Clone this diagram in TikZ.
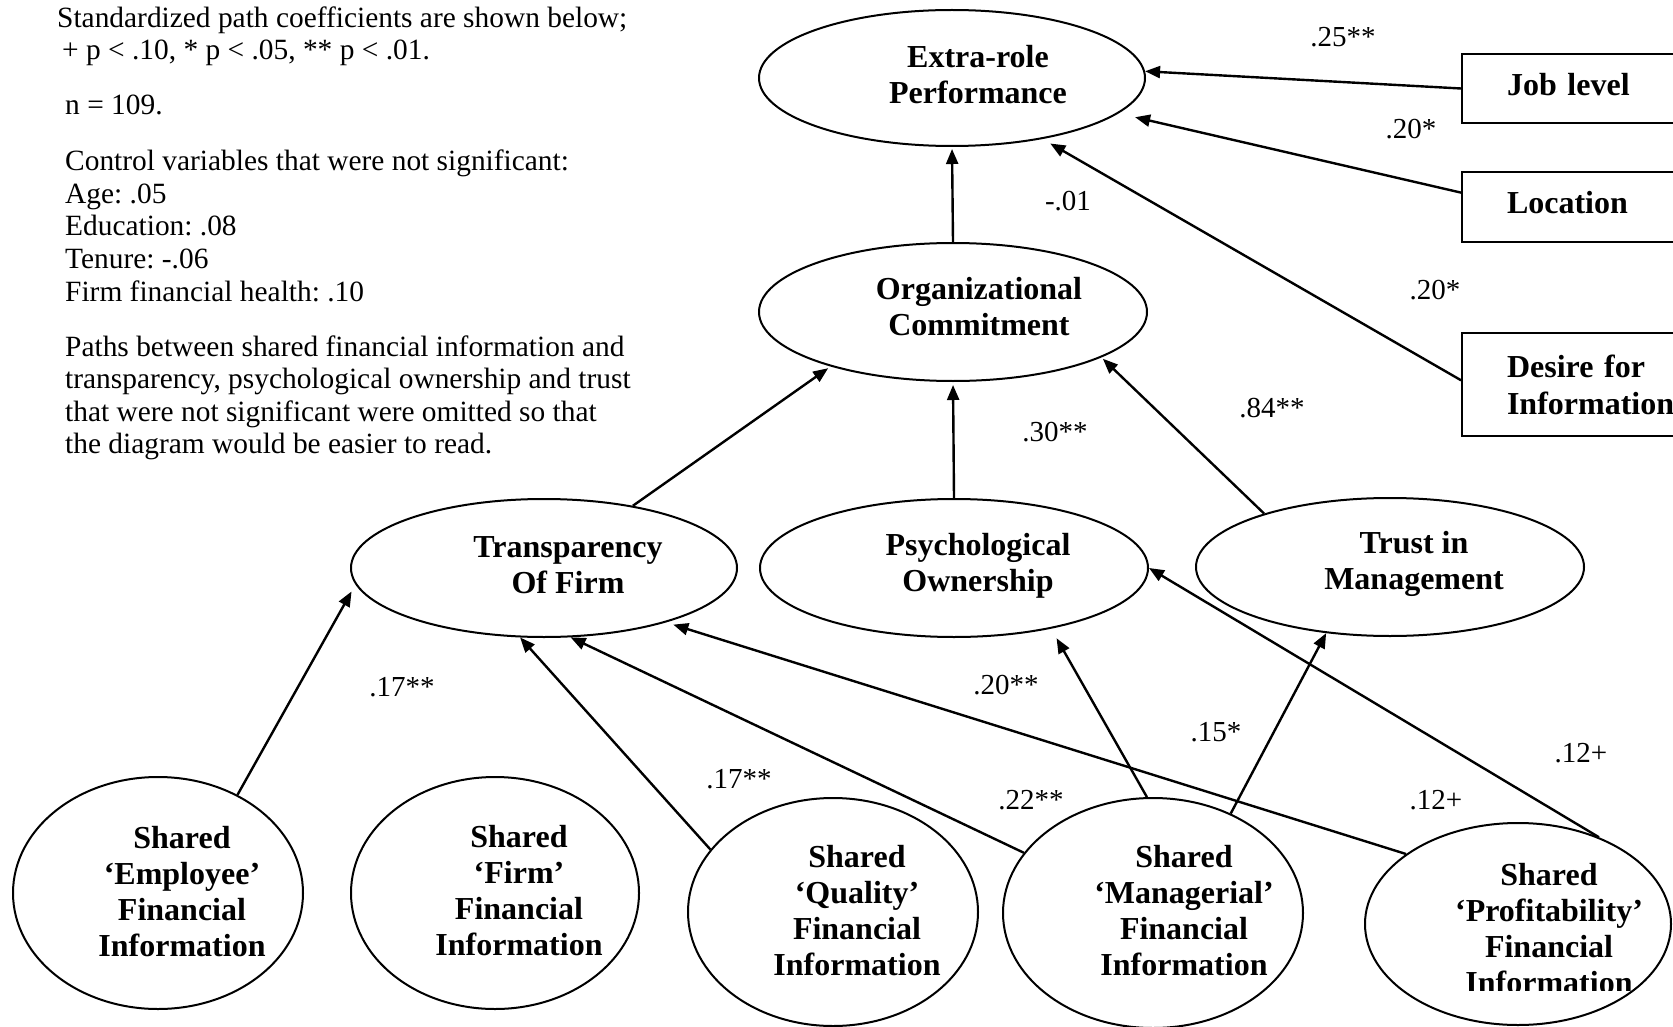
\documentclass[tikz,border=0pt]{standalone}
\usepackage{fontspec}
\setmainfont{Liberation Serif}
\usetikzlibrary{shapes.geometric,arrows.meta,calc}
\frenchspacing
\begin{document}
\begin{tikzpicture}[x=1pt,y=-1pt,
  ell/.style={ellipse,draw,line width=2pt,inner sep=0pt},
  lab/.style={font=\fontsize{32}{36}\selectfont\bfseries,align=center,inner sep=0pt},
  boxnode/.style={draw,rectangle,line width=1.8pt,minimum width=300pt,text width=210pt,inner xsep=45pt,inner ysep=0pt,align=left,font=\fontsize{32}{37}\selectfont\bfseries},
  arr/.style={line width=2.4pt,-{Triangle[length=15pt,width=12pt]}},
  coef/.style={font=\fontsize{29}{32}\selectfont,inner sep=0pt},
  note/.style={font=\fontsize{29.4}{32}\selectfont,inner sep=0pt,anchor=base west}
]
\path[use as bounding box,clip] (0,0) rectangle (1673,1027);
\fill[white] (0,0) rectangle (1673,1027);

% notes
\node[note] (t1) at (57,27.5) {Standardized path coefficients are shown below;};
\node[note] (t2) at (62,59.5) {+ p < .10, * p < .05, ** p < .01.};
\node[note] (t3) at (65,115) {n = 109.};
\node[note] (t4) at (65,171) {Control variables that were not significant:};
\node[note] (t5) at (65,203.5) {Age: .05};
\node[note] (t6) at (65,236) {Education: .08};
\node[note] (t7) at (65,268.5) {Tenure: -.06};
\node[note] (t8) at (65,301) {Firm financial health: .10};
\node[note] (t9) at (65,356) {Paths between shared financial information and};
\node[note] (t10) at (65,388.5) {transparency, psychological ownership and trust};
\node[note] (t11) at (65,421) {that were not significant were omitted so that};
\node[note] (t12) at (65,453.5) {the diagram would be easier to read.};

% ellipses
\node[ell,minimum width=386pt,minimum height=136pt] (extra) at (952,78) {};
\node[ell,minimum width=388pt,minimum height=138pt] (org) at (953,312) {};
\node[ell,minimum width=386pt,minimum height=138pt] (tra) at (544,568) {};
\node[ell,minimum width=388pt,minimum height=138pt] (psy) at (954,568) {};
\node[ell,minimum width=388pt,minimum height=138pt] (tru) at (1390,567) {};
\node[ell,minimum width=290pt,minimum height=232pt] (emp) at (158,893) {};
\node[ell,minimum width=288pt,minimum height=232pt] (frm) at (495,893) {};
\node[ell,minimum width=290pt,minimum height=228pt] (qua) at (833,912) {};
\node[ell,minimum width=300pt,minimum height=230pt] (man) at (1153,913) {};
\node[ell,minimum width=306pt,minimum height=202pt] (pro) at (1518,924) {};

% ellipse texts
\node[lab] (extraT) at (978,75) {Extra-role\\Performance};
\node[lab] (orgT) at (979,307) {Organizational\\Commitment};
\node[lab] (traT) at (568,565) {Transparency\\Of Firm};
\node[lab] (psyT) at (978,566) {Psychological\\Ownership};
\node[lab] (truT) at (1414,564) {Trust in\\Management};
\node[lab] (empT) at (182,892) {Shared\\‘Employee’\\Financial\\Information};
\node[lab] (frmT) at (519,891) {Shared\\‘Firm’\\Financial\\Information};
\node[lab] (quaT) at (857,911) {Shared\\‘Quality’\\Financial\\Information};
\node[lab] (manT) at (1184,911) {Shared\\‘Managerial’\\Financial\\Information};
\begin{scope}
\clip (1300,800) rectangle (1673,990);
\node[lab] (proT) at (1549,929) {Shared\\‘Profitability’\\Financial\\Information};
\end{scope}

% boxes
\node[boxnode,minimum height=69pt,text depth=9pt] (job) at (1612,88.5) {Job level};
\node[boxnode,minimum height=70pt,text depth=9pt] (loc) at (1612,207) {Location};
\node[boxnode,minimum height=103pt] (des) at (1612,384.5) {Desire for\\Information};

% arrows
\draw[arr] (job.west) -- (extra.2);
\draw[arr,shorten >=17pt] ($(loc.north west)!0.3!(loc.south west)$) -- (extra.-12.5);
\draw[arr,shorten >=9pt] ($(des.north west)!0.46!(des.south west)$) -- (extra.-34);
\draw[arr,shorten >=2pt] (org.north) -- (extra.south);
\draw[arr,shorten >=3pt] (tra.35) -- (org.-156);
\draw[arr,shorten >=3pt] (psy.north) -- (org.south);
\draw[arr,shorten >=2pt] (tru.157) -- (org.-17.4);
\draw[arr,shorten >=8pt] (emp.51.5) -- (tra.185.2);
\draw[arr] (qua.153.4) -- (tra.-109.2);
\draw[arr] (man.155.4) -- (tra.-69.1);
\draw[arr,shorten >=7.5pt] (pro.148.9) -- (tra.-24);
\draw[arr,shorten >=11pt] (man.93) -- (psy.-32.6);
\draw[arr] (man.52.7) -- (tru.-134);
\draw[arr] (pro.47.9) -- (psy.0);

% coefficients
\node[coef] (c1) at (1343,37) {.25**};
\node[coef] (c2) at (1411,129) {.20*};
\node[coef] (c3) at (1068,201) {-.01};
\node[coef] (c4) at (1435,290) {.20*};
\node[coef] (c5) at (1272,408) {.84**};
\node[coef] (c6) at (1055,432) {.30**};
\node[coef] (c7) at (402,687) {.17**};
\node[coef] (c8) at (739,779) {.17**};
\node[coef] (c9) at (1006,685) {.20**};
\node[coef] (c10) at (1216,732) {.15*};
\node[coef] (c11) at (1031,800) {.22**};
\node[coef] (c12) at (1436,800) {.12+};
\node[coef] (c13) at (1581,753) {.12+};
\end{tikzpicture}
\end{document}
